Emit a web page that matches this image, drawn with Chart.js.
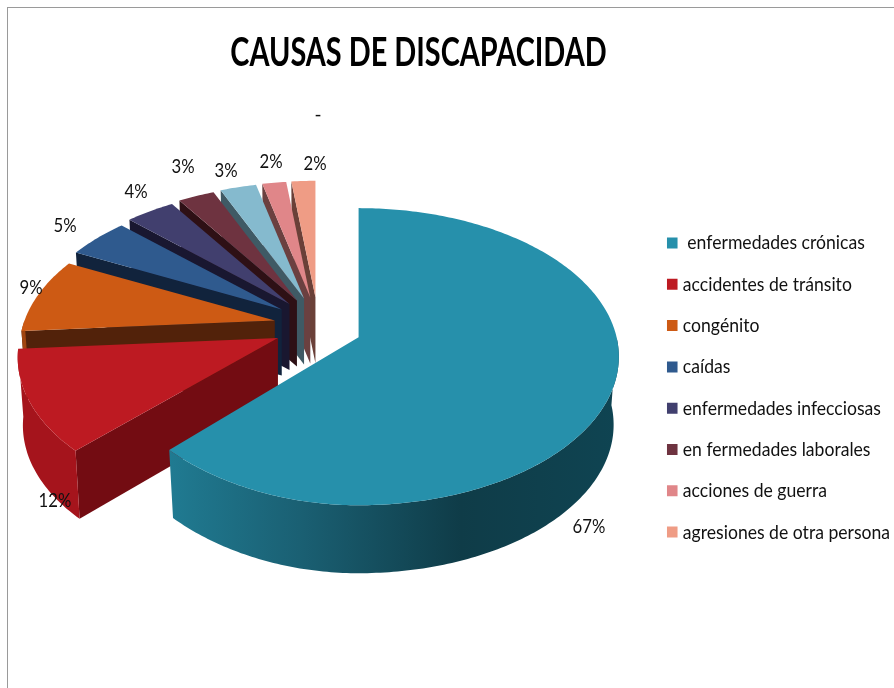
<!DOCTYPE html>
<html><head><meta charset="utf-8">
<style>html,body{margin:0;padding:0;background:#fff}#w{position:relative;width:894px;height:688px;overflow:hidden}
#w:before{content:"";position:absolute;left:7px;top:7px;width:900px;height:700px;border:1.5px solid #9a9a9a;box-sizing:border-box}
canvas{position:absolute;left:0;top:0}</style>
<script src="https://cdn.jsdelivr.net/npm/chart.js@4"></script>
</head><body><div id="w"><canvas id="c" width="894" height="688"></canvas></div>
<script>
const titleText = "CAUSAS DE DISCAPACIDAD";
const categories = [" enfermedades crónicas","accidentes de tránsito","congénito","caídas","enfermedades infecciosas","en fermedades laborales","","acciones de guerra","agresiones de otra persona"];
const values = [67,12,9,5,4,3,3,2,2];
const topColors = ["#2690ab","#bd1a22","#cd5a14","#2f5a8e","#413f6e","#6e3340","#85bace","#e08689","#ef9c85"];
const wallColors = ["#0f3a44","#730c12","#52220a","#11233c","#191730","#2e1015","#3f5a65","#6b4040","#6a4038"];
const rimColors = ["#1a6478","#a5141c","#a04510","#224468","#2e2c50","#4e2430","#5f8c9c","#a86466","#b87462"];
const labelAnchors = [[589,527],[55,501],[31,288],[65,226],[136,192],[183,167],[226,171],[271,162],[315,164]];

const PIE = {cx:318, cy:326, squash:0.66, yScale:146/258, k:0.131, apexDepth:66, rimDepth:68, taper:0.02};
function geom(arc,i){
  const R = arc.outerRadius;
  const m = (arc.startAngle+arc.endAngle)/2 + Math.PI/2;
  const off = arc.options.offset;
  const ax = PIE.cx + off*Math.sin(m), ay = PIE.cy - off*PIE.squash*Math.cos(m);
  const rim = t=>{
    const c=Math.cos(t), sn=Math.sin(t);
    const s = 1/(1+PIE.k*c);
    const rf = i>=2 ? 0.97-0.07*c : 1;
    const sx = (i===0 && sn<0) ? 1+(s-1)*0.3 : s;
    return {x:ax+R*rf*sn*sx, y:ay-R*PIE.yScale*rf*c*s};
  };
  return {ax,ay,rim,a0:arc.startAngle+Math.PI/2,a1:arc.endAngle+Math.PI/2};
}
function arcPts(g,from,to){
  const n=Math.max(2,Math.ceil((to-from)/0.015)),p=[];
  for(let j=0;j<=n;j++)p.push(g.rim(from+(to-from)*j/n));
  return p;
}
const bottomX=(q,g)=>q.x+(g.ax-q.x)*PIE.taper;
const pie3d = {
  id:"pie3d",
  afterInit(chart){
    const t=chart.titleBlock, l=chart.legend;
    const td=t.draw; t.draw=function(a){
      const c=this.ctx; c.save();
      c.translate(418.5,53); c.scale(TITLE_SX,1);
      c.translate(-(this.left+this.right)/2,-(this.top+this.bottom)/2);
      td.call(this,a); c.restore();
    };
    const ld=l.draw; l.draw=function(a){
      const c=this.ctx,b=this.legendHitBoxes[0]; c.save();
      c.translate(670.5,233); c.scale(LEG_SX,1);
      c.translate(-b.left,-b.top);
      ld.call(this,a); c.restore();
    };
  },
  beforeDatasetsDraw(chart){
    const c=chart.ctx, arcs=chart.getDatasetMeta(0).data;
    for(let i=arcs.length-1;i>=0;i--){
      const g=geom(arcs[i],i), D=PIE.rimDepth;
      const sp=g.rim(g.a0);
      c.fillStyle=wallColors[i];
      c.beginPath();c.moveTo(g.ax,g.ay);c.lineTo(sp.x,sp.y);c.lineTo(bottomX(sp,g),sp.y+D);c.lineTo(g.ax,g.ay+PIE.apexDepth);c.closePath();c.fill();
      const f=Math.max(g.a0,Math.PI/2), e=Math.min(g.a1,Math.PI*1.5);
      if(e>f){
        const p=arcPts(g,f,e);
        if(i===0){
          const gr=c.createLinearGradient(168,0,618,0);
          gr.addColorStop(0,"#207b92");gr.addColorStop(.3,"#1a5f72");gr.addColorStop(.65,"#0f3c48");gr.addColorStop(1,"#0f4452");
          c.fillStyle=gr;
        } else c.fillStyle=rimColors[i];
        c.beginPath();p.forEach((q,j)=>j?c.lineTo(q.x,q.y):c.moveTo(q.x,q.y));
        for(let j=p.length-1;j>=0;j--)c.lineTo(bottomX(p[j],g),p[j].y+D);
        c.closePath();c.fill();
      }
      c.fillStyle=topColors[i];
      c.beginPath();c.moveTo(g.ax,g.ay);arcPts(g,g.a0,g.a1).forEach(q=>c.lineTo(q.x,q.y));c.closePath();c.fill();
    }
    return false;
  },
  afterDraw(chart){
    const c=chart.ctx;c.save();
    c.fillStyle="#111";c.textAlign="center";c.textBaseline="middle";
    c.font='19px Lato';
    values.forEach((v,i)=>{
      c.save();c.translate(labelAnchors[i][0],labelAnchors[i][1]);c.scale(.88,1);
      c.fillText(v+"%",0,0);c.restore();
    });
    c.fillText("-",318,115);
    c.restore();
  }
};
const TITLE_SX=0.722, LEG_SX=0.88;
const baseLabels = Chart.overrides.doughnut.plugins.legend.labels.generateLabels;
new Chart(document.getElementById("c"),{
  type:"pie",
  data:{labels:categories,datasets:[{data:values,backgroundColor:topColors,offset:44,borderWidth:0}]},
  plugins:[pie3d],
  options:{
    responsive:false,animation:false,radius:258,
    plugins:{
      tooltip:{enabled:false},
      title:{display:true,text:titleText,color:"#000",font:{family:"Lato",size:40,weight:"bold"},padding:0},
      legend:{position:"right",align:"start",
        labels:{color:"#111",font:{family:"Lato",size:20},boxWidth:4,boxHeight:3,padding:21.3,
          generateLabels:ch=>baseLabels(ch).map(it=>({...it,strokeStyle:it.fillStyle,lineWidth:8})),
          filter:item=>item.text!==""}}
    }
  }
});
</script></body></html>
